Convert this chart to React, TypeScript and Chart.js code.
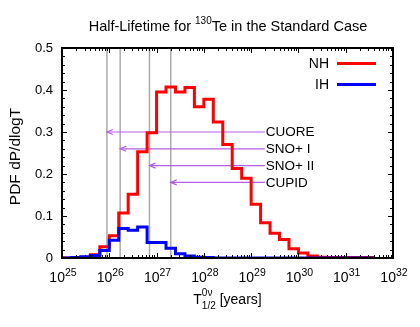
import React, { useEffect, useRef } from 'react';
import { Chart, registerables } from 'chart.js';

Chart.register(...registerables);

const FONT = '"Liberation Sans", Arial, Helvetica, sans-serif';

// Histogram bin edges in log10(T1/2 / years)
const binEdges = [
  25.0, 25.2, 25.4, 25.6, 25.8, 26.0, 26.2, 26.4, 26.6, 26.8,
  27.0, 27.2, 27.4, 27.6, 27.8, 28.0, 28.2, 28.4, 28.6, 28.8,
  29.0, 29.2, 29.4, 29.6, 29.8, 30.0, 30.2, 30.4, 30.6, 30.8,
  31.0, 31.2, 31.4, 31.6,
];

// NH (normal hierarchy) PDF per bin
const nhValues = [
  0.0, 0.0, 0.002, 0.008, 0.027, 0.053, 0.107, 0.152, 0.253, 0.298,
  0.395, 0.407, 0.395, 0.406, 0.360, 0.378, 0.324, 0.270, 0.213, 0.190,
  0.128, 0.084, 0.059, 0.044, 0.022, 0.012, 0.005, 0.002, 0.001, 0.001,
  0.001, 0.001, 0.001,
];

// IH (inverted hierarchy) PDF per bin
const ihValues = [
  0.0, 0.001, 0.003, 0.006, 0.018, 0.042, 0.070, 0.066, 0.074, 0.037,
  0.037, 0.023, 0.010, 0.005, 0.002, 0.001, 0.0, 0.0, 0.0, 0.0,
  0.0, 0.0, 0.0, 0.0, 0.0, 0.0, 0.0, 0.0, 0.0, 0.0,
  0.0, 0.0, 0.0,
];

const xDecades = [25, 26, 27, 28, 29, 30, 31, 32];

// Experimental sensitivities (log10 years) and arrow heights
const experiments = ['CUORE', 'SNO+ I', 'SNO+ II', 'CUPID'];
const sensitivities = [25.95, 26.23, 26.85, 27.3];
const arrowLevels = [0.3, 0.26, 0.22, 0.18];
const ARROW_FROM = 29.29;

const seriesNames = ['NH', 'IH'];
const seriesColors = ['#ff0000', '#0000ff'];

function histPoints(values: number[]) {
  const pts = values.map((v, i) => ({ x: binEdges[i], y: v }));
  pts.push({ x: binEdges[values.length], y: values[values.length - 1] });
  return pts;
}

const GREY = '#ababab';
const PURPLE = '#b45ee6';

const overlayPlugin = {
  id: 'overlay',
  afterDatasetsDraw(chart: any) {
    const { ctx, scales } = chart;
    const xs = scales.x;
    const ys = scales.y;
    ctx.save();
    ctx.strokeStyle = PURPLE;
    ctx.lineWidth = 1.2;
    sensitivities.forEach((s, i) => {
      const px = xs.getPixelForValue(s);
      const py = ys.getPixelForValue(arrowLevels[i]);
      ctx.beginPath();
      ctx.moveTo(px + 6, py - 2.5);
      ctx.lineTo(px, py);
      ctx.lineTo(px + 6, py + 2.5);
      ctx.stroke();
    });
    ctx.restore();
  },
  afterDraw(chart: any) {
    const { ctx, chartArea: a, scales } = chart;
    const xs = scales.x;
    const ys = scales.y;
    ctx.save();
    ctx.fillStyle = '#000';
    ctx.strokeStyle = '#000';

    // ticks (inward)
    ctx.lineWidth = 1;
    ctx.beginPath();
    for (let v = 0; v <= 0.5001; v += 0.02) {
      const py = Math.round(ys.getPixelForValue(v)) + 0.5;
      const major = Math.abs(v * 10 - Math.round(v * 10)) < 1e-6;
      const len = major ? 5 : 3;
      ctx.moveTo(a.left, py);
      ctx.lineTo(a.left + len, py);
      ctx.moveTo(a.right, py);
      ctx.lineTo(a.right - len, py);
    }
    for (let d = 25; d < 32; d++) {
      for (let k = 1; k <= 10; k++) {
        const val = d + Math.log10(k);
        const px = Math.round(xs.getPixelForValue(val)) + 0.5;
        const major = k === 1 || k === 10;
        const len = major ? 5 : 3;
        ctx.moveTo(px, a.bottom);
        ctx.lineTo(px, a.bottom - len);
        ctx.moveTo(px, a.top);
        ctx.lineTo(px, a.top + len);
      }
    }
    ctx.stroke();

    // frame
    ctx.lineWidth = 2;
    ctx.strokeRect(a.left, a.top, a.right - a.left, a.bottom - a.top);

    // x tick labels 10^n
    const big = `14px ${FONT}`;
    const small = `10.5px ${FONT}`;
    ctx.textBaseline = 'alphabetic';
    ctx.textAlign = 'left';
    xDecades.forEach((d) => {
      const px = xs.getPixelForValue(d);
      ctx.font = big;
      const w1 = ctx.measureText('10').width;
      ctx.font = small;
      const w2 = ctx.measureText(String(d)).width;
      const x0 = px - (w1 + w2) / 2 + 1;
      ctx.font = big;
      ctx.fillText('10', x0, 282);
      ctx.font = small;
      ctx.fillText(String(d), x0 + w1, 276);
    });

    // x title: T^{0ν}_{1/2} [years]
    {
      const sf = `10px ${FONT}`;
      ctx.font = `14px ${FONT}`;
      const wT = ctx.measureText('T').width;
      ctx.font = sf;
      const wSup = ctx.measureText('0ν').width;
      const wSub = ctx.measureText('1/2').width;
      ctx.font = `14px ${FONT}`;
      const wRest = ctx.measureText(' [years]').width;
      const total = wT + Math.max(wSup, wSub) + wRest;
      const x0 = (a.left + a.right) / 2 - total / 2;
      ctx.fillText('T', x0, 304);
      ctx.font = sf;
      ctx.fillText('0ν', x0 + wT, 296);
      ctx.fillText('1/2', x0 + wT, 309);
      ctx.font = `14px ${FONT}`;
      ctx.fillText(' [years]', x0 + wT + Math.max(wSup, wSub), 304);
    }

    // title
    {
      const tf = `14.5px ${FONT}`;
      const sf = `10px ${FONT}`;
      const p1 = 'Half-Lifetime for ';
      const sup = '130';
      const p2 = 'Te in the Standard Case';
      ctx.font = tf;
      const w1 = ctx.measureText(p1).width;
      const w3 = ctx.measureText(p2).width;
      ctx.font = sf;
      const w2 = ctx.measureText(sup).width;
      const x0 = 228 - (w1 + w2 + w3) / 2;
      ctx.font = tf;
      ctx.fillText(p1, x0, 31);
      ctx.font = sf;
      ctx.fillText(sup, x0 + w1, 24);
      ctx.font = tf;
      ctx.fillText(p2, x0 + w1 + w2, 31);
    }

    // y title
    ctx.save();
    ctx.translate(15.5, 156.5);
    ctx.rotate(-Math.PI / 2);
    ctx.textAlign = 'center';
    ctx.textBaseline = 'middle';
    ctx.font = `15.5px ${FONT}`;
    ctx.fillText('PDF dP/dlogT', 0, 0);
    ctx.restore();

    // legend
    ctx.font = `14px ${FONT}`;
    ctx.textAlign = 'right';
    ctx.textBaseline = 'middle';
    seriesNames.forEach((name, i) => {
      const yy = 63.5 + i * 21;
      ctx.fillStyle = '#000';
      ctx.fillText(name, 329, yy + 0.5);
      ctx.strokeStyle = seriesColors[i];
      ctx.lineWidth = 3;
      ctx.beginPath();
      ctx.moveTo(337, yy);
      ctx.lineTo(376, yy);
      ctx.stroke();
    });

    // experiment labels
    ctx.fillStyle = '#000';
    ctx.textAlign = 'left';
    ctx.font = `13.5px ${FONT}`;
    experiments.forEach((name, i) => {
      const px = xs.getPixelForValue(ARROW_FROM);
      const py = ys.getPixelForValue(arrowLevels[i]);
      ctx.fillText(name, px + 1, py + 0.5);
    });

    ctx.restore();
  },
};

export default function App() {
  const ref = useRef<HTMLCanvasElement | null>(null);

  useEffect(() => {
    if (!ref.current) return;
    const datasets: any[] = [];
    datasets.push({
      label: 'IH',
      data: histPoints(ihValues),
      borderColor: seriesColors[1],
      borderWidth: 3,
      stepped: 'before',
      pointRadius: 0,
      fill: false,
      order: 0,
    });
    datasets.push({
      label: 'NH',
      data: histPoints(nhValues),
      borderColor: seriesColors[0],
      borderWidth: 3,
      stepped: 'before',
      pointRadius: 0,
      fill: false,
      order: 1,
    });
    sensitivities.forEach((s, i) => {
      datasets.push({
        label: experiments[i] + ' arrow',
        data: [
          { x: ARROW_FROM, y: arrowLevels[i] },
          { x: s, y: arrowLevels[i] },
        ],
        borderColor: PURPLE,
        borderWidth: 1.2,
        pointRadius: 0,
        fill: false,
        order: 2,
      });
      datasets.push({
        label: experiments[i] + ' line',
        data: [
          { x: s, y: 0 },
          { x: s, y: 0.5 },
        ],
        borderColor: GREY,
        borderWidth: 1.5,
        pointRadius: 0,
        fill: false,
        order: 3,
      });
    });

    const chart = new Chart(ref.current, {
      type: 'line',
      data: { datasets },
      options: {
        animation: false,
        responsive: false,
        layout: { padding: { top: 48, right: 27, bottom: 69, left: 0 } },
        plugins: {
          legend: { display: false },
          tooltip: { enabled: false },
          title: { display: false },
        },
        scales: {
          x: {
            type: 'linear',
            min: 25,
            max: 32,
            display: false,
          },
          y: {
            type: 'linear',
            min: 0,
            max: 0.5,
            grid: { display: false, drawTicks: false },
            border: { display: false },
            ticks: {
              stepSize: 0.1,
              padding: 9,
              color: '#000',
              font: { family: FONT, size: 13 },
              callback: (v: any) => (Math.abs(v) < 1e-9 ? '0' : Number(v).toFixed(1)),
            },
            afterFit: (scale: any) => {
              scale.width = 62;
            },
          },
        },
      },
      plugins: [overlayPlugin],
    });
    return () => chart.destroy();
  }, []);

  return (
    <div style={{ position: 'absolute', left: 0, top: 0, width: 420, height: 327, background: '#fff' }}>
      <canvas ref={ref} width={420} height={327} style={{ display: 'block' }} />
    </div>
  );
}
